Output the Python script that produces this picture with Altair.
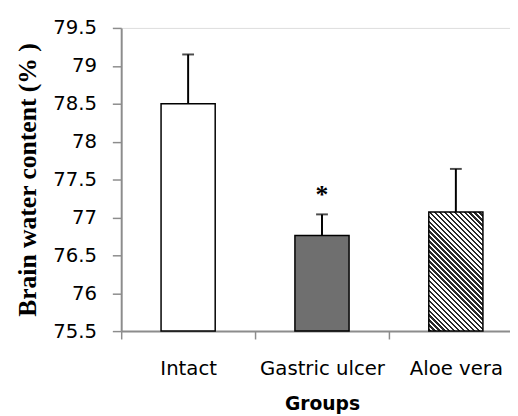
import math
import altair as alt
import pandas as pd

groups = ["Intact", "Gastric ulcer", "Aloe vera"]
means = [78.50, 76.76, 77.07]
err_top = [79.15, 77.04, 77.64]
y_ticks = [75.5, 76, 76.5, 77, 77.5, 78, 78.5, 79, 79.5]
star_text = ["", "*", ""]

df = pd.DataFrame({"group": groups, "mean": means, "top": err_top, "star": star_text})

Y_MIN, Y_MAX = 75.5, 79.5
PLOT_H = 308
BAR_W = 55

# 45-degree "\" stripes for the "Aloe vera" bar (gradient in bar bounding-box units)
w = BAR_W
h = (means[2] - Y_MIN) / (Y_MAX - Y_MIN) * PLOT_H
s = (w + h) / (w * w + h * h)
n_stripes = int(round((w + h) / math.sqrt(2) / 3.6))
stops = []
for k in range(n_stripes):
    a = k / n_stripes
    b = (k + 0.5) / n_stripes
    c = (k + 1) / n_stripes
    stops += [
        alt.GradientStop(offset=a, color="#2a2a2a"),
        alt.GradientStop(offset=b, color="#2a2a2a"),
        alt.GradientStop(offset=b, color="#ffffff"),
        alt.GradientStop(offset=c, color="#ffffff"),
    ]
stripes = alt.LinearGradient(
    gradient="linear", stops=stops, x1=0, y1=1, x2=w * s, y2=1 - h * s
)

x_axis = alt.Axis(
    title="Groups",
    labelAngle=0,
    labelFont="DejaVu Sans",
    labelFontSize=20,
    labelColor="#000000",
    labelPadding=20,
    tickBand="extent",
    tickSize=8,
    tickColor="#8c8c8c",
    tickWidth=1.5,
    domainColor="#8c8c8c",
    domainWidth=2,
    titleFont="DejaVu Sans",
    titleFontSize=19,
    titleFontWeight="bold",
    titleColor="#000000",
    titlePadding=17,
    grid=False,
)
y_axis = alt.Axis(
    title="Brain water content (% )",
    values=y_ticks,
    format="~g",
    labelOverlap=False,
    labelFlush=False,
    labelFont="DejaVu Sans",
    labelFontSize=20,
    labelColor="#000000",
    labelPadding=16,
    tickSize=9,
    tickColor="#8c8c8c",
    tickWidth=1.5,
    domainColor="#8c8c8c",
    domainWidth=2,
    titleFont="Liberation Serif",
    titleFontSize=26,
    titleFontWeight="bold",
    titleColor="#000000",
    titlePadding=13,
    grid=False,
)
x_scale = alt.Scale(range=[0, 408], paddingInner=0, paddingOuter=0)
y_scale = alt.Scale(domain=[Y_MIN, Y_MAX], nice=False, zero=False)


def X():
    return alt.X("group:N", sort=groups, scale=x_scale, axis=x_axis)


def Y(field):
    return alt.Y(field, scale=y_scale, axis=y_axis)


base = alt.Chart(df)


def bar_layer(name, fill):
    return (
        base.transform_filter(alt.datum.group == name)
        .mark_bar(size=BAR_W, fill=fill, stroke="#000000", strokeWidth=1.5)
        .encode(x=X(), y=Y("mean:Q"), y2=alt.datum(Y_MIN))
    )


bars = [
    bar_layer(groups[0], "#ffffff"),
    bar_layer(groups[1], "#6f6f6f"),
    bar_layer(groups[2], stripes),
]

err_line = base.mark_rule(color="#000000", strokeWidth=2).encode(
    x=X(), y=Y("mean:Q"), y2="top:Q"
)
err_cap = base.mark_tick(color="#000000", size=12, thickness=2, orient="horizontal").encode(
    x=X(), y=Y("top:Q")
)
star = base.mark_text(
    font="Liberation Serif", fontSize=26, fontWeight="bold", color="#000000",
    baseline="alphabetic", dy=-12
).encode(x=X(), y=Y("top:Q"), text="star:N")

chart = (
    alt.layer(*bars, err_line, err_cap, star)
    .properties(
        width=395,
        height=PLOT_H,
        autosize=alt.AutoSizeParams(type="none"),
        padding={"left": 115, "top": 17, "right": 0, "bottom": 83},
    )
    .configure_view(strokeWidth=0)
    .configure(background="#ffffff")
)

chart.save("out.html", embed_options={"renderer": "svg", "actions": False})
